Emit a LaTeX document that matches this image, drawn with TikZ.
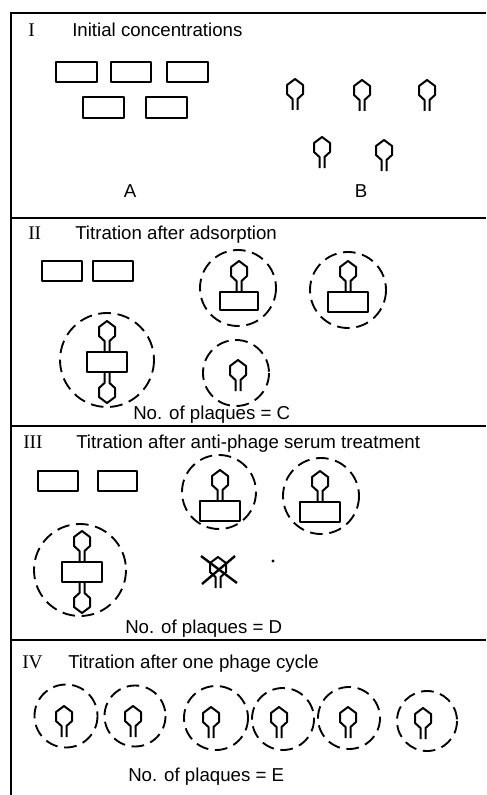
\documentclass[tikz,border=0pt]{standalone}
\usepackage{fontspec}
\setmainfont{Liberation Sans}
\newfontfamily\numfont{Liberation Serif}
\begin{document}
\begin{tikzpicture}[x=0.75pt,y=-0.75pt,
  frame/.style={line width=1pt},
  cell/.style={line width=1.6pt, line join=round},
  phg/.style={line width=1.5pt, line join=round},
  plaque/.style={line width=1.4pt, dash pattern=on 9.5pt off 5pt},
  lbl/.style={font=\fontsize{14}{16}\selectfont, inner sep=0pt, anchor=base west},
  ctr/.style={font=\fontsize{14}{16}\selectfont, inner sep=0pt, anchor=base},
  num/.style={font=\numfont\fontsize{14.5}{16}\selectfont, inner sep=0pt, anchor=base west},
  phage/.pic={\draw[phg] (2.5,0) -- (2.5,-11) -- (8,-16) -- (8,-25) -- (0,-31) -- (-8,-25) -- (-8,-16) -- (-2.5,-11) -- (-2.5,0);}
]
\useasboundingbox (0,0) rectangle (486,795);
% frame
\coordinate (tl) at (11,13);
\coordinate (tr) at (486,13);
\coordinate (bl) at (11,795);
\draw[frame] (tr) -- (tl) -- (bl);
\coordinate (d1l) at (11,218); \coordinate (d1r) at (486,218);
\coordinate (d2l) at (11,426); \coordinate (d2r) at (486,426);
\coordinate (d3l) at (11,640); \coordinate (d3r) at (486,640);
\draw[frame] (d1l) -- (d1r);
\draw[frame] (d2l) -- (d2r);
\draw[frame] (d3l) -- (d3r);

% ---------- Panel I ----------
\node[num] (n1) at (28,37) {I};
\node[lbl] (t1) at (72,37) {Initial concentrations};
\draw[cell] (56,62) rectangle (97,82);
\draw[cell] (111,62) rectangle (151,82);
\draw[cell] (167,62) rectangle (208,82);
\draw[cell] (83,97) rectangle (124,118);
\draw[cell] (146,97) rectangle (187,118);
\pic at (295,110) {phage};
\pic at (362,111) {phage};
\pic at (427,111) {phage};
\pic at (322,168) {phage};
\pic at (384,171) {phage};
\node[ctr] (la) at (130,197) {A};
\node[ctr] (lb) at (361,197) {B};

% ---------- Panel II ----------
\node[num] (n2) at (28,239) {II};
\node[lbl] (t2) at (75,239) {Titration after adsorption};
\draw[cell] (42,261) rectangle (82,281);
\draw[cell] (93,261) rectangle (133,281);
\draw[plaque] (238,288) circle[radius=38];
\draw[cell] (220,292) rectangle (258,310);
\pic at (239,292) {phage};
\draw[plaque] (348,290) circle[radius=38];
\draw[cell] (328,292) rectangle (368,312);
\pic at (348,292) {phage};
\draw[plaque] (107,360) circle[radius=47];
\draw[cell] (87,352) rectangle (127,372);
\pic at (107,352) {phage};
\pic[rotate=180] at (107,372) {phage};
\draw[plaque] (236,373) circle[radius=33];
\pic at (238,391) {phage};
\node[lbl] (pc) at (133,419) {No. of plaques = C};

% ---------- Panel III ----------
\node[num] (n3) at (23,448) {III};
\node[lbl] (t3) at (76,448) {Titration after anti-phage serum treatment};
\draw[cell] (38,471) rectangle (78,491);
\draw[cell] (98,471) rectangle (137,491);
\draw[plaque] (219,492) circle[radius=37];
\draw[cell] (200,501) rectangle (240,521);
\pic at (220,501) {phage};
\draw[plaque] (321,496) circle[radius=38];
\draw[cell] (300,502) rectangle (340,522);
\pic at (320,502) {phage};
\draw[plaque] (80,570) circle[radius=46];
\draw[cell] (62,562) rectangle (102,582);
\pic at (82,562) {phage};
\pic[rotate=180] at (82,582) {phage};
% inactivated phage
\pic at (218,588) {phage};
\coordinate (x1) at (201,556); \coordinate (x2) at (237,583);
\coordinate (x3) at (235,556); \coordinate (x4) at (202,584);
\draw[line width=1.8pt] (x1) -- (x2);
\draw[line width=1.8pt] (x3) -- (x4);
\fill (273,561) circle[radius=1.7];
\node[lbl] (pd) at (125,633) {No. of plaques = D};

% ---------- Panel IV ----------
\node[num] (n4) at (22,668) {IV};
\node[lbl] (t4) at (68,668) {Titration after one phage cycle};
\draw[plaque] (66,716) circle[radius=31.5];
\draw[plaque] (135,716) circle[radius=30.5];
\draw[plaque] (216,718) circle[radius=32];
\draw[plaque] (283,719) circle[radius=31];
\draw[plaque] (349,718) circle[radius=31];
\draw[plaque] (427,721) circle[radius=30];
\pic at (64,737) {phage};
\pic at (133,737) {phage};
\pic at (211,738) {phage};
\pic at (279,738) {phage};
\pic at (348,738) {phage};
\pic at (423,739) {phage};
\node[lbl] (pe) at (128,781) {No. of plaques = E};
\end{tikzpicture}
\end{document}
